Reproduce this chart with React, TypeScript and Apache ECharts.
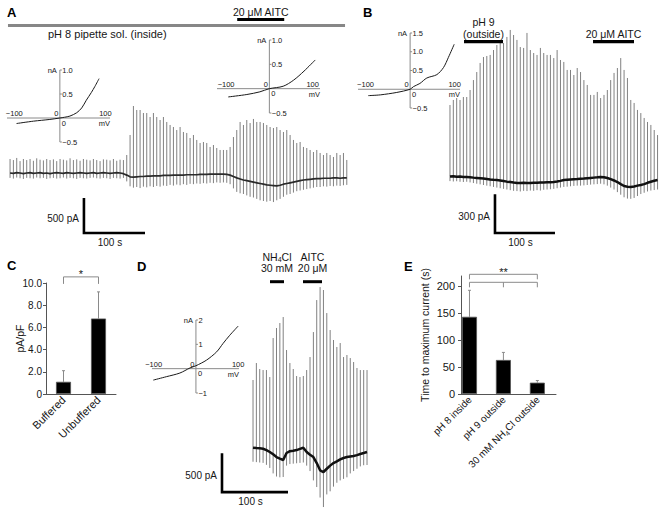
import React, { useEffect, useRef } from 'react';
import * as echarts from 'echarts';

const FONT = '"Liberation Sans", Arial, Helvetica, sans-serif';
const INK = '#161616';
const AXIS = '#555555';
const INSET_AXIS = '#8a8a8a';
const SPIKE = '#808080';
const MARK_GRAY = '#8a8a8a';

// ===== Panel A : pH 8 pipette solution (inside) =====
const A_START_S = 5;
const A_STEP_S = 5.46;
const A_PEAK_PA = [
  200, 185, 215, 170, 200, 185, 200, 175, 210, 190, 180, 200, 185, 195, 170, 200, 190, 180, 210, 185,
  195, 175, 200, 190, 180, 200, 185, 170, 195, 190, 180, 200, 175, 190, 185,
  257, 543, 957, 900, 900, 857, 857, 800, 857, 800, 757, 800, 729, 686, 657, 614, 657, 586, 572, 500,
  543, 472, 429, 443, 429, 372, 400, 357, 329, 329, 329,
  372, 514, 614, 729, 686, 757, 714, 772, 729, 729, 714, 686, 657, 643, 657, 614, 586, 614, 543, 472,
  429, 443, 372, 357, 329, 300, 329, 286, 257, 286, 257, 229, 286, 257, 286, 186,
];
const A_TROUGH_PA = [
  -70, -80, -65, -75, -85, -70, -75, -80, -65, -75, -70, -85, -75, -70, -80, -75, -65, -80, -70, -75,
  -85, -70, -75, -80, -70, -65, -75, -80, -70, -75, -85, -70, -75, -80, -70,
  -120, -190, -210, -200, -215, -195, -205, -190, -200, -185, -195, -180, -185, -170, -180, -165, -175, -160, -170, -155,
  -160, -150, -155, -145, -150, -140, -145, -135, -140, -135, -140,
  -160, -220, -270, -290, -300, -320, -340, -350, -370, -390, -400, -410, -400, -415, -390, -370, -340, -310, -300, -280,
  -260, -250, -240, -230, -220, -210, -200, -200, -190, -195, -185, -190, -180, -185, -175, -170,
];
const A_BASE_PA = [
  0, -5, 5, 0, -10, 0, 5, -5, 0, 5, -5, 0, -10, 0, 5, 0, -5, 5, 0, -5,
  0, 5, 0, -5, 0, 5, -5, 0, 5, 0, -5, 0, 5, 0, -10,
  -30, -55, -60, -55, -50, -50, -45, -45, -40, -40, -40, -35, -35, -35, -30, -30, -30, -30, -25, -25,
  -25, -25, -20, -20, -20, -15, -15, -15, -15, -15, -20,
  -30, -50, -70, -85, -100, -110, -120, -130, -140, -150, -160, -170, -175, -180, -185, -175, -160, -150, -140, -130,
  -120, -110, -100, -95, -90, -85, -80, -80, -75, -75, -75, -70, -70, -75, -70, -70,
];
const A_TIME_S = A_PEAK_PA.map((_, i) => A_START_S + i * A_STEP_S);
const A_BATH = [{ label: ['20 μM AITC'], start: 377, end: 454 }];
const A_PIPETTE = [{ label: [] as string[], start: 1.6, end: 553.6 }];
const A_PIPETTE_LABEL = 'pH 8 pipette sol. (inside)';
const A_SCALE = { t: 126, pA: -857, dt: 100, dpA: 500 };
const A_SCALE_LABELS = ['500 pA', '100 s'];

// I–V insets of panel A (mV, nA)
const IV_X_TICKS = [-100, 0, 100];
const A_IV_Y_TICKS = [-0.5, 0, 0.5, 1.0];
const A1_MV = [-95, -58, -22, 0, 10, 22, 37, 48, 58, 69, 77, 86];
const A1_NA = [-0.115, -0.066, -0.03, 0, 0.015, 0.04, 0.11, 0.21, 0.37, 0.53, 0.66, 0.82];
const A2_MV = [-95, -52, -22, 0, 32, 56, 80, 106];
const A2_NA = [-0.17, -0.12, -0.065, 0, 0.05, 0.175, 0.36, 0.59];

// ===== Panel B : pH 9 outside =====
const B_START_S = 8.3;
const B_STEP_S = 5.58;
const B_PEAK_PA = [
  553, 592, 607, 592, 615, 615, 669, 746, 808, 878, 924, 932, 940, 978, 1017, 1056, 1032, 1079, 1133, 1094,
  1056, 1001, 994, 1110, 978, 955, 940, 994, 955, 940, 940, 916, 978, 901, 886, 824, 824, 785, 839, 808,
  746, 708, 631, 631, 654, 607, 631, 669, 746, 801, 839, 916, 824, 762, 592, 569, 515, 491, 453, 422,
  399, 360, 321,
];
const B_TROUGH_PA = [
  -35, -38, -36, -40, -42, -40, -45, -50, -55, -60, -65, -70, -75, -80, -85, -90, -95, -100, -105, -110,
  -112, -115, -110, -112, -108, -110, -105, -108, -102, -100, -98, -95, -90, -85, -80, -78, -75, -72, -70, -70,
  -68, -65, -62, -60, -58, -55, -60, -70, -85, -100, -120, -140, -160, -170, -172, -165, -150, -135, -125, -115,
  -108, -104, -100,
];
const B_BASE_PA = [
  0, 2, -2, 0, -3, -3, -5, -8, -10, -12, -15, -18, -22, -25, -26, -30, -34, -39, -42, -46,
  -49, -50, -48, -50, -49, -47, -48, -46, -45, -44, -43, -42, -38, -33, -26, -24, -22, -20, -19, -17,
  -15, -12, -10, -8, -6, -3, -5, -11, -20, -30, -42, -58, -73, -78, -80, -76, -70, -65, -58, -48,
  -40, -32, -26,
];
const B_TIME_S = B_PEAK_PA.map((_, i) => B_START_S + i * B_STEP_S);
const B_BATH = [
  { label: ['pH 9', '(outside)'], start: 31.7, end: 96.7 },
  { label: ['20 μM AITC'], start: 246.7, end: 315 },
];
const B_SCALE = { t: 83.3, pA: -436, dt: 100, dpA: 300 };
const B_SCALE_LABELS = ['300 pA', '100 s'];
const B_IV_Y_TICKS = [-0.5, 0, 0.5, 1.0, 1.5];
const B_MV = [-94, -67, -30, 0, 7.5, 22, 37.5, 60, 75, 86, 99];
const B_NA = [-0.17, -0.15, -0.085, 0, 0.07, 0.155, 0.3, 0.39, 0.58, 0.85, 1.2];

// ===== Panel C : current density =====
const C_CATEGORY = ['Buffered', 'Unbuffered'];
const C_MEAN = [1.1, 6.8];
const C_SEM = [1.0, 2.4];
const C_SIG = '*';

// ===== Panel D : NH4Cl outside =====
const D_START_S = 57.6;
const D_STEP_S = 5.08;
const D_PEAK_PA = [
  870, 1088, 1011, 998, 998, 908, 1409, 1538, 1602, 1679, 1255, 1088, 1011, 921, 908, 921, 998, 1165, 1486, 1897,
  2064, 2026, 1730, 1512, 1384, 1294, 1345, 1165, 1191, 1152, 1101, 1024, 998, 998, 998,
];
const D_TROUGH_PA = [
  -180, -185, -190, -195, -220, -260, -330, -370, -380, -376, -230, -210, -205, -200, -195, -190, -230, -300, -420, -505,
  -640, -762, -600, -560, -500, -450, -420, -400, -380, -330, -300, -270, -240, -225, -222,
];
const D_BASE_PA = [
  0, -5, -8, -13, -30, -55, -85, -120, -140, -158, -68, -45, -40, -30, -15, 0, -55, -90, -120, -197,
  -290, -312, -270, -230, -197, -175, -150, -132, -120, -112, -107, -95, -80, -68, -55,
];
const D_TIME_S = D_PEAK_PA.map((_, i) => D_START_S + i * D_STEP_S);
const D_BATH = [
  { label: ['NH{sub|4}Cl', '30 mM'], start: 83.3, end: 104.5 },
  { label: ['AITC', '20 μM'], start: 133.3, end: 162.1 },
];
const D_SCALE = { t: 10.6, pA: -570, dt: 100, dpA: 500 };
const D_SCALE_LABELS = ['500 pA', '100 s'];
const D_IV_Y_TICKS = [-1, 0, 1, 2];
const D_MV = [-101, -70, -38, -14, 0, 25, 49, 64, 80, 100];
const D_NA = [-0.47, -0.33, -0.18, 0.03, 0.12, 0.35, 0.69, 1.03, 1.37, 1.75];

// ===== Panel E : time to maximum current =====
const E_CATEGORY = ['pH 8 inside', 'pH 9 outside', '30 mM NH4Cl outside'];
const E_MEAN = [143, 63, 21];
const E_SEM = [49, 14, 4];
const E_TICKS = [0, 50, 100, 150, 200];
const E_SIG = '**';

// ---------------------------------------------------------------
const SUB_RICH = { sub: { fontSize: 7, fontFamily: FONT, fill: INK, color: INK, verticalAlign: 'bottom', lineHeight: 13 } };

function txt(text: string, x: number, y: number, size: number, align: string, vAlign: string, extra: any = {}) {
  return { type: 'text', x, y, style: { text, fontSize: size, fontFamily: FONT, fill: INK, align, verticalAlign: vAlign, ...extra } };
}

function traceSeries(gi: number, times: number[], peaks: number[], troughs: number[], base: number[], baseWidth: number, baseColor: string) {
  return [
    {
      type: 'custom', xAxisIndex: gi, yAxisIndex: gi, silent: true, clip: false, z: 2,
      data: times.map((t, i) => [t, peaks[i], troughs[i]]),
      encode: { x: 0, y: [1, 2] },
      renderItem: (_p: any, api: any) => {
        const a = api.coord([api.value(0), api.value(1)]);
        const b = api.coord([api.value(0), api.value(2)]);
        return { type: 'line', shape: { x1: a[0], y1: a[1], x2: b[0], y2: b[1] }, style: { stroke: SPIKE, lineWidth: 1 } };
      },
    },
    {
      type: 'line', xAxisIndex: gi, yAxisIndex: gi, silent: true, z: 3,
      data: times.map((t, i) => [t, base[i]]),
      symbol: 'none', showSymbol: false,
      lineStyle: { color: baseColor, width: baseWidth },
    },
  ];
}

function protocolSeries(gi: number, items: any[], barY: number, lastLineY: number, lineGap: number, color: string, thick: number) {
  return {
    type: 'custom', xAxisIndex: gi, yAxisIndex: gi, silent: true, clip: false, z: 5,
    data: items.map((it) => [it.start, it.end, 0]),
    encode: { x: [0, 1], y: 2 },
    renderItem: (params: any, api: any) => {
      const it = items[params.dataIndex];
      const x1 = api.coord([api.value(0), 0])[0];
      const x2 = api.coord([api.value(1), 0])[0];
      const children: any[] = [
        { type: 'rect', shape: { x: x1, y: barY - thick / 2, width: x2 - x1, height: thick }, style: { fill: color } },
      ];
      const n = it.label.length;
      it.label.forEach((line: string, k: number) => {
        children.push(txt(line, (x1 + x2) / 2, lastLineY - (n - 1 - k) * lineGap, 10.5, 'center', 'middle', { rich: SUB_RICH }));
      });
      return { type: 'group', children };
    },
  };
}

function scaleBarSeries(gi: number, bar: any, labels: string[]) {
  return {
    type: 'custom', xAxisIndex: gi, yAxisIndex: gi, silent: true, clip: false, z: 5,
    data: [[bar.t, bar.pA, bar.t + bar.dt, bar.pA + bar.dpA]],
    encode: { x: [0, 2], y: [1, 3] },
    renderItem: (_p: any, api: any) => {
      const o = api.coord([api.value(0), api.value(1)]);
      const xe = api.coord([api.value(2), api.value(1)]);
      const ye = api.coord([api.value(0), api.value(3)]);
      return {
        type: 'group',
        children: [
          { type: 'polyline', shape: { points: [ye, o, xe] }, style: { stroke: '#000', lineWidth: 2.6, fill: 'none', lineJoin: 'miter', lineCap: 'butt' } },
          txt(labels[0], o[0] - 5, (o[1] + ye[1]) / 2 + 3, 10, 'right', 'middle'),
          txt(labels[1], (o[0] + xe[0]) / 2 - 4.5, o[1] + 9.5, 10, 'center', 'middle'),
        ],
      };
    },
  };
}

function errorSeries(gi: number, mean: number[], sem: number[]) {
  return {
    type: 'custom', xAxisIndex: gi, yAxisIndex: gi, silent: true, clip: false, z: 1,
    data: mean.map((m, i) => [i, m, m + sem[i]]),
    encode: { x: 0, y: [1, 2] },
    renderItem: (_p: any, api: any) => {
      const a = api.coord([api.value(0), api.value(1)]);
      const b = api.coord([api.value(0), api.value(2)]);
      return {
        type: 'group',
        children: [
          { type: 'line', shape: { x1: a[0], y1: a[1], x2: b[0], y2: b[1] }, style: { stroke: MARK_GRAY, lineWidth: 1 } },
          { type: 'line', shape: { x1: b[0] - 1.5, y1: b[1], x2: b[0] + 1.5, y2: b[1] }, style: { stroke: MARK_GRAY, lineWidth: 1 } },
        ],
      };
    },
  };
}

function sigSeries(gi: number, from: number, to: number, ticksAt: number[], topValue: number, rise: number, drop: number, text: string) {
  return {
    type: 'custom', xAxisIndex: gi, yAxisIndex: gi, silent: true, clip: false, z: 5,
    data: [[from, to, topValue]],
    encode: { x: [0, 1], y: 2 },
    renderItem: (_p: any, api: any) => {
      const yTop = api.coord([api.value(0), api.value(2)])[1] - rise;
      const x1 = api.coord([api.value(0), api.value(2)])[0];
      const x2 = api.coord([api.value(1), api.value(2)])[0];
      const children: any[] = [
        { type: 'line', shape: { x1, y1: yTop, x2, y2: yTop }, style: { stroke: MARK_GRAY, lineWidth: 1 } },
      ];
      ticksAt.forEach((c) => {
        const xc = api.coord([c, api.value(2)])[0];
        children.push({ type: 'line', shape: { x1: xc, y1: yTop, x2: xc, y2: yTop + drop }, style: { stroke: MARK_GRAY, lineWidth: 1 } });
      });
      if (text) children.push(txt(text, (x1 + x2) / 2, yTop - 2.5, 11, 'center', 'middle'));
      return { type: 'group', children };
    },
  };
}

// I–V inset axes, drawn through the inset's own coordinate system (origin at 0 mV, 0 nA)
function insetFrameSeries(gi: number, xr: number[], yr: number[], xTicks: number[], yTicks: number[], digits: number) {
  const fmt = (v: number, d: number) => (v < 0 ? '−' : '') + Math.abs(v).toFixed(d);
  return {
    type: 'custom', xAxisIndex: gi, yAxisIndex: gi, silent: true, clip: false, z: 3,
    data: [[xr[0], xr[1], yr[0], yr[1]]],
    encode: { x: [0, 1], y: [2, 3] },
    renderItem: (_p: any, api: any) => {
      const o = api.coord([0, 0]);
      const xl = api.coord([api.value(0), 0]);
      const xh = api.coord([api.value(1), 0]);
      const yl = api.coord([0, api.value(2)]);
      const yh = api.coord([0, api.value(3)]);
      const ln = (x1: number, y1: number, x2: number, y2: number) => ({
        type: 'line', shape: { x1, y1, x2, y2 }, style: { stroke: INSET_AXIS, lineWidth: 1 },
      });
      const children: any[] = [ln(xl[0], o[1], xh[0], o[1]), ln(o[0], yl[1], o[0], yh[1])];
      xTicks.forEach((v) => {
        const p = api.coord([v, 0]);
        if (v === 0) children.push(txt('0', o[0] - 1.5, o[1] - 0.5, 7.5, 'right', 'bottom'));
        else children.push(txt(fmt(v, 0), p[0], o[1] - 0.5, 7.5, 'center', 'bottom'));
      });
      children.push(txt('mV', xh[0], o[1] + 1.5, 7.5, 'right', 'top'));
      yTicks.forEach((v) => {
        const p = api.coord([0, v]);
        if (v === 0) {
          children.push(txt('0', o[0] + 2, o[1] + 1, 7.5, 'left', 'top'));
        } else {
          children.push(ln(o[0], p[1], o[0] + 2, p[1]));
          children.push(txt(fmt(v, digits), o[0] + 2.5, p[1], 7.5, 'left', 'middle'));
        }
      });
      children.push(txt('nA', o[0] - 3, yh[1], 7.5, 'right', 'middle'));
      return { type: 'group', children };
    },
  };
}

function curveSeries(gi: number, mv: number[], na: number[]) {
  return {
    type: 'line', xAxisIndex: gi, yAxisIndex: gi, silent: true, z: 4,
    data: mv.map((m, i) => [m, na[i]]),
    symbol: 'none', showSymbol: false, smooth: 0.3,
    lineStyle: { color: '#1a1a1a', width: 1 },
  };
}

function hiddenAxes(gi: number, xr: number[], yr: number[]) {
  return {
    xAxis: { type: 'value', gridIndex: gi, min: xr[0], max: xr[1], show: false },
    yAxis: { type: 'value', gridIndex: gi, min: yr[0], max: yr[1], show: false },
  };
}

function letter(t: string, x: number, y: number) {
  return { type: 'text', x, y, silent: true, style: { text: t, fontSize: 13, fontWeight: 'bold', fontFamily: FONT, fill: '#000', align: 'left', verticalAlign: 'middle' } };
}

function buildOption() {
  const grids = [
    { left: 7, top: 96, width: 345, height: 140 }, // 0 trace A
    { left: 7, top: 70, width: 103, height: 72 }, // 1 inset A1
    { left: 217, top: 40, width: 103, height: 73 }, // 2 inset A2
    { left: 445, top: 20, width: 216, height: 220 }, // 3 trace B
    { left: 358, top: 33, width: 102, height: 75 }, // 4 inset B
    { left: 46, top: 283, width: 70, height: 111 }, // 5 bar C
    { left: 215, top: 250, width: 160, height: 260 }, // 6 trace D
    { left: 152, top: 320, width: 87, height: 73 }, // 7 inset D
    { left: 461, top: 276, width: 95, height: 118 }, // 8 bar E
    { left: 453, top: 276, width: 102, height: 118 }, // 9 E category labels
  ].map((g) => ({ ...g, containLabel: false, outerBoundsMode: 'none' }));

  const ranges: any[] = [
    [[0, 565], [-900, 1100]],
    [[-116, 110], [-0.5, 1.0]],
    [[-121, 117], [-0.5, 1.0]],
    [[0, 360], [-490, 1210]],
    [[-117, 112], [-0.5, 1.5]],
    null,
    [[0, 242.4], [-800, 2540]],
    [[-104, 102], [-1, 2]],
  ];
  const hidden = ranges.map((r, i) => (r ? hiddenAxes(i, r[0], r[1]) : null));

  const cX = {
    type: 'category', gridIndex: 5, data: C_CATEGORY,
    axisLine: { show: true, lineStyle: { color: AXIS } }, axisTick: { show: false },
    axisLabel: { interval: 0, rotate: 45, fontSize: 11, margin: 4, color: INK, fontFamily: FONT },
  };
  const cY = {
    type: 'value', gridIndex: 5, min: 0, max: 10, interval: 2,
    axisLine: { show: true, lineStyle: { color: AXIS } },
    axisTick: { show: true, length: 3, lineStyle: { color: AXIS } },
    splitLine: { show: false },
    axisLabel: { fontSize: 10, margin: 4, color: INK, fontFamily: FONT, formatter: (v: number) => (v === 0 ? '0' : v.toFixed(1)) },
    name: 'pA/pF', nameLocation: 'middle', nameGap: 21, nameMoveOverlap: false,
    nameTextStyle: { fontSize: 10.5, color: INK, fontFamily: FONT },
  };

  const eX = {
    type: 'value', gridIndex: 8, min: -0.25, max: 2.55,
    axisLine: { show: true, onZero: false, lineStyle: { color: AXIS } },
    axisTick: { show: false }, axisLabel: { show: false }, splitLine: { show: false },
  };
  const eY = {
    type: 'value', gridIndex: 8, min: 0, max: 218.5,
    axisLine: { show: true, onZero: false, lineStyle: { color: AXIS } },
    axisTick: { show: true, length: 3, customValues: E_TICKS, lineStyle: { color: AXIS } },
    splitLine: { show: false },
    axisLabel: { fontSize: 11, margin: 6, color: INK, fontFamily: FONT, customValues: E_TICKS },
    name: 'Time to maximum current (s)', nameLocation: 'middle', nameGap: 31, nameMoveOverlap: false,
    nameTextStyle: { fontSize: 10.5, color: INK, fontFamily: FONT },
  };
  const eLabX = {
    type: 'category', gridIndex: 9, data: E_CATEGORY,
    axisLine: { show: false }, axisTick: { show: false },
    axisLabel: {
      interval: 0, rotate: 45, fontSize: 10, margin: 4, color: INK, fontFamily: FONT,
      formatter: (s: string) => s.replace('NH4Cl', 'NH{sub|4}Cl'),
      rich: { sub: { fontSize: 7, fontFamily: FONT, color: INK, verticalAlign: 'bottom', lineHeight: 14 } },
    },
  };
  const eLabY = { type: 'value', gridIndex: 9, show: false };

  const xAxis = [hidden[0].xAxis, hidden[1].xAxis, hidden[2].xAxis, hidden[3].xAxis, hidden[4].xAxis, cX, hidden[6].xAxis, hidden[7].xAxis, eX, eLabX];
  const yAxis = [hidden[0].yAxis, hidden[1].yAxis, hidden[2].yAxis, hidden[3].yAxis, hidden[4].yAxis, cY, hidden[6].yAxis, hidden[7].yAxis, eY, eLabY];

  const series: any[] = [
    ...traceSeries(0, A_TIME_S, A_PEAK_PA, A_TROUGH_PA, A_BASE_PA, 1.7, '#2a2a2a'),
    protocolSeries(0, A_BATH, 19.5, 11.5, 11.8, '#000', 3),
    protocolSeries(0, A_PIPETTE, 25.5, 0, 0, '#878787', 3),
    scaleBarSeries(0, A_SCALE, A_SCALE_LABELS),
    insetFrameSeries(1, ranges[1][0], ranges[1][1], IV_X_TICKS, A_IV_Y_TICKS, 1),
    curveSeries(1, A1_MV, A1_NA),
    insetFrameSeries(2, ranges[2][0], ranges[2][1], IV_X_TICKS, A_IV_Y_TICKS, 1),
    curveSeries(2, A2_MV, A2_NA),
    ...traceSeries(3, B_TIME_S, B_PEAK_PA, B_TROUGH_PA, B_BASE_PA, 2.5, '#111'),
    protocolSeries(3, B_BATH, 41.7, 33.5, 11.8, '#000', 3.2),
    scaleBarSeries(3, B_SCALE, B_SCALE_LABELS),
    insetFrameSeries(4, ranges[4][0], ranges[4][1], IV_X_TICKS, B_IV_Y_TICKS, 1),
    curveSeries(4, B_MV, B_NA),
    {
      type: 'bar', xAxisIndex: 5, yAxisIndex: 5, data: C_MEAN, barWidth: 15, silent: true, z: 2,
      itemStyle: { color: '#000', borderColor: '#555', borderWidth: 0.8 },
    },
    errorSeries(5, C_MEAN, C_SEM),
    sigSeries(5, 0, 1, [0, 1], C_MEAN[1] + C_SEM[1], 15, 7, C_SIG),
    ...traceSeries(6, D_TIME_S, D_PEAK_PA, D_TROUGH_PA, D_BASE_PA, 2.5, '#111'),
    protocolSeries(6, D_BATH, 281.7, 267.5, 11, '#000', 3),
    scaleBarSeries(6, D_SCALE, D_SCALE_LABELS),
    insetFrameSeries(7, ranges[7][0], ranges[7][1], IV_X_TICKS, D_IV_Y_TICKS, 0),
    curveSeries(7, D_MV, D_NA),
    {
      type: 'bar', xAxisIndex: 8, yAxisIndex: 8, data: E_MEAN.map((m, i) => [i, m]), barWidth: 15, silent: true, z: 2,
      itemStyle: { color: '#000', borderColor: '#555', borderWidth: 0.8 },
    },
    errorSeries(8, E_MEAN, E_SEM),
    sigSeries(8, 0, 2, [0, 2], E_MEAN[0] + E_SEM[0], 16, 5, E_SIG),
    sigSeries(8, 0, 2, [0, 1, 2], E_MEAN[0] + E_SEM[0], 8, 5, ''),
  ];

  const graphic = [
    letter('A', 7, 12.5),
    letter('B', 363, 12),
    letter('C', 7, 265),
    letter('D', 137, 266),
    letter('E', 404, 266),
    { ...txt(A_PIPETTE_LABEL, 48, 34, 11, 'left', 'middle'), silent: true },
  ];

  return {
    animation: false,
    backgroundColor: '#ffffff',
    textStyle: { fontFamily: FONT, color: INK },
    grid: grids,
    xAxis,
    yAxis,
    series,
    graphic,
  };
}

export default function App() {
  const ref = useRef<HTMLDivElement>(null);
  useEffect(() => {
    if (!ref.current) return;
    const chart = echarts.init(ref.current, null, { renderer: 'svg' });
    chart.setOption(buildOption() as any);
    return () => chart.dispose();
  }, []);
  return (
    <div
      ref={ref}
      style={{ position: 'fixed', left: 0, top: 0, width: 665, height: 511, background: '#fff' }}
    />
  );
}
